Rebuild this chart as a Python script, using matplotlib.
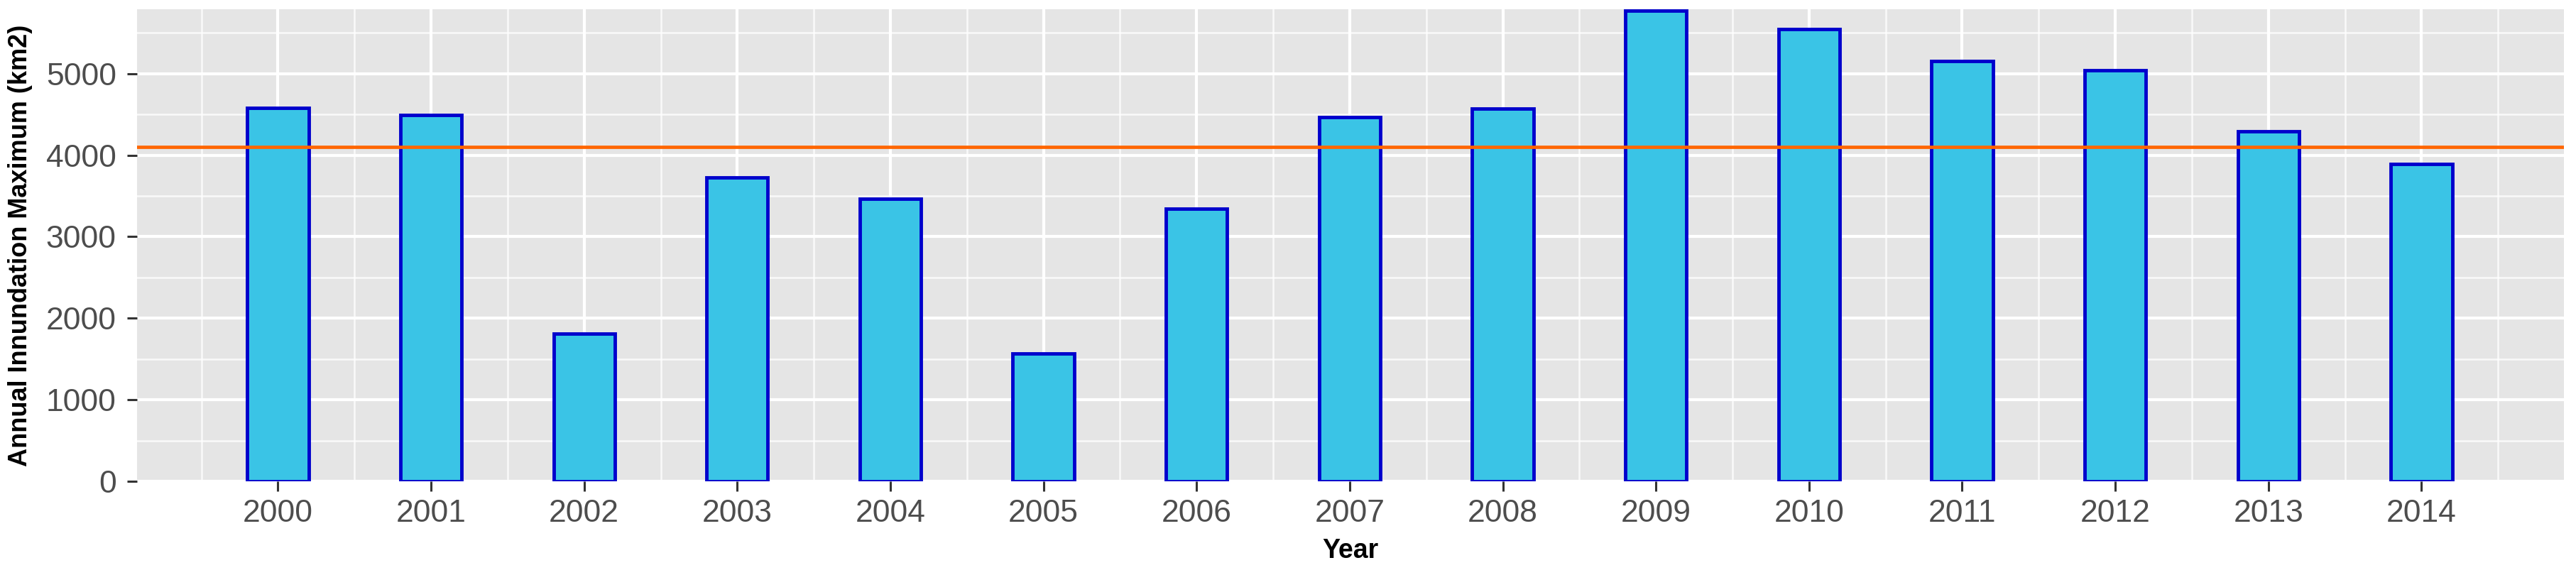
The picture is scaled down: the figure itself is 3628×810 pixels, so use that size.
import numpy as np
import matplotlib
matplotlib.use("Agg")
import matplotlib.pyplot as plt
from matplotlib.ticker import MultipleLocator

# Annual inundation maximum per year (km2)
years = [2000, 2001, 2002, 2003, 2004, 2005, 2006, 2007,
         2008, 2009, 2010, 2011, 2012, 2013, 2014]
inundation_max = [4577, 4490, 1807, 3726, 3464, 1564, 3346, 4465,
                  4567, 5770, 5543, 5150, 5040, 4294, 3891]
mean_level = 4100
y_ticks = [0, 1000, 2000, 3000, 4000, 5000]

plt.rcParams['font.family'] = ['Liberation Sans', 'DejaVu Sans']

fig = plt.figure(figsize=(36.28, 8.10), dpi=100)
ax = fig.add_axes([0.0532, 0.1630, 0.9953 - 0.0532, 0.984 - 0.1630])

# ggplot-like panel
ax.set_facecolor('#E5E5E5')
for s in ax.spines.values():
    s.set_visible(False)
ax.set_axisbelow(True)

ax.bar(years, inundation_max, width=0.4, color='#3AC4E6',
       edgecolor='#0000CC', linewidth=3.5, zorder=2)
ax.axhline(mean_level, color='#FF6600', linewidth=3.4, zorder=3)

ax.set_xlim(1999.08, 2014.93)
ax.set_ylim(0, 5790)
ax.set_xticks(years)
ax.set_xticklabels([str(y) for y in years])
ax.set_yticks(y_ticks)
ax.xaxis.set_minor_locator(MultipleLocator(0.5))
ax.yaxis.set_minor_locator(MultipleLocator(500))

ax.grid(which='major', color='white', linewidth=3.0)
ax.grid(which='minor', color='white', linewidth=1.8, alpha=0.8)

ax.tick_params(axis='both', which='major', labelsize=32, labelcolor='#4D4D4D',
               color='#333333', length=10, width=2.2)
ax.tick_params(axis='y', which='major', pad=11)
ax.tick_params(axis='x', which='major', pad=8)
ax.tick_params(which='minor', length=0)

label_font = ['Liberation Sans Narrow', 'Liberation Sans', 'DejaVu Sans']
ax.set_xlabel('Year', fontsize=27, fontweight='bold', family=label_font,
              labelpad=10)
ax.set_ylabel('Annual Innundation Maximum (km2)', fontsize=26,
              fontweight='bold', family=label_font, labelpad=14)
ax.yaxis.set_label_coords(-0.0429, 0.5)

fig.savefig('out.png', dpi=100, facecolor='white')
